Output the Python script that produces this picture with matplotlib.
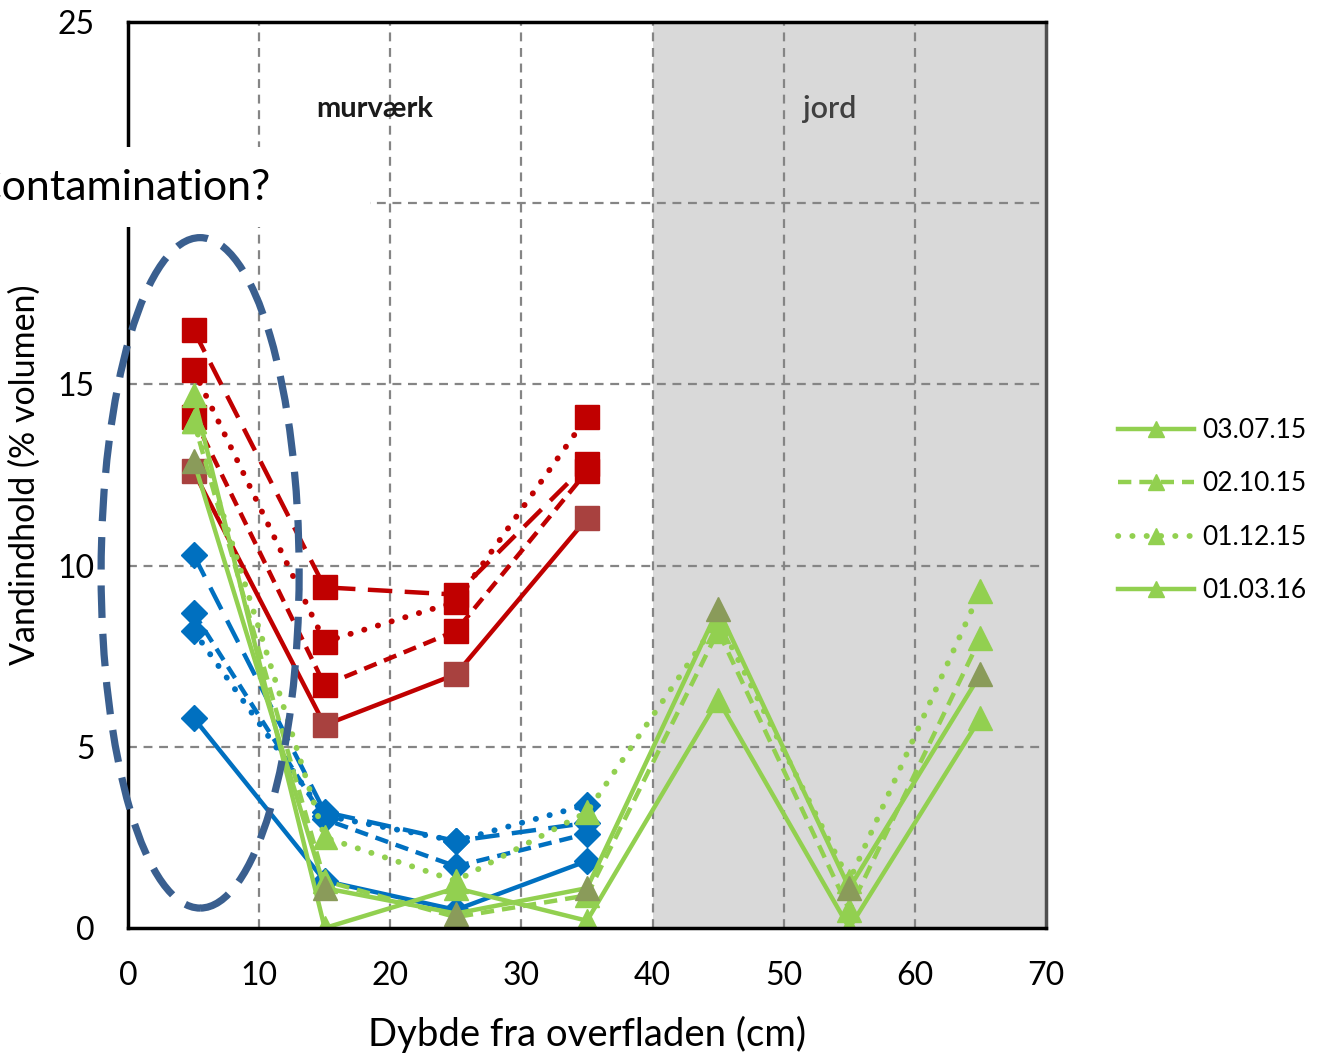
import matplotlib
matplotlib.use("Agg")
import matplotlib.pyplot as plt
from matplotlib.patches import Ellipse, Rectangle
from matplotlib.lines import Line2D

plt.rcParams['font.family'] = ['Lato', 'DejaVu Sans']

# depth (cm)
depth_wall = [5, 15, 25, 35]
depth_all = [5, 15, 25, 35, 45, 55, 65]

# red series (squares)
red_long = [16.5, 9.4, 9.2, 12.8]
red_dot = [15.4, 7.9, 9.0, 14.1]
red_dash = [14.1, 6.7, 8.2, 12.6]
red_solid = [12.6, 5.6, 7.0, 11.3]

# blue series (diamonds)
blue_long = [10.3, 3.2, 2.4, 2.9]
blue_dot = [8.2, 3.1, 2.4, 3.4]
blue_dash = [8.7, 3.0, 1.7, 2.6]
blue_solid = [5.8, 1.3, 0.5, 1.85]

# green series (triangles)
green_labels = ['03.07.15', '02.10.15', '01.12.15', '01.03.16']
green_0307 = [14.7, 0.0, 1.1, 0.2, 6.3, 0.0, 5.8]
green_0210 = [14.0, 1.3, 0.3, 0.9, 8.2, 0.5, 8.0]
green_0112 = [14.0, 2.5, 1.3, 3.2, 8.5, 1.3, 9.3]
green_0103 = [12.9, 1.1, 0.4, 1.1, 8.8, 1.1, 7.0]

# y tick 20 is hidden behind the annotation box in the original
ytick_vals = [0, 5, 10, 15, 25]

RED = '#C00000'
RED_DARK = '#A8413F'
BLUE = '#0070C0'
GREEN = '#92D050'
OLIVE = '#8A9B5A'

fig = plt.figure(figsize=(13.19, 10.56), dpi=100)
ax = fig.add_axes([128/1319, 128/1056, 918/1319, 906/1056])

ax.axvspan(40, 70, color='#D9D9D9', zorder=0, lw=0)
for xv in range(10, 70, 10):
    ax.axvline(xv, color='#858585', ls=(0, (4, 3)), lw=1.6, zorder=1)
for yv in range(5, 25, 5):
    ax.axhline(yv, color='#858585', ls=(0, (4, 3)), lw=1.6, zorder=1)

lw = 3.2
dot = (0, (0.05, 2.4))
dash = (0, (3, 1.8))
longdash = (0, (5.5, 2.8))

def series(x, y, color, mcol, marker, ls, ms, z):
    is_dot = ls == dot
    ax.plot(x, y, color=color, ls=ls, lw=4.2 if is_dot else lw, marker=marker, ms=ms,
            mfc=mcol, mec=mcol, zorder=z, dash_capstyle='round' if is_dot else 'butt',
            solid_capstyle='butt')

series(depth_wall, red_long, RED, RED, 's', longdash, 17, 3)
series(depth_wall, red_dot, RED, RED, 's', dot, 17, 3)
series(depth_wall, red_dash, RED, RED, 's', dash, 17, 3)
series(depth_wall, red_solid, RED, RED_DARK, 's', '-', 17, 3)

series(depth_wall, blue_long, BLUE, BLUE, 'D', longdash, 13, 4)
series(depth_wall, blue_dot, BLUE, BLUE, 'D', dot, 13, 4)
series(depth_wall, blue_dash, BLUE, BLUE, 'D', dash, 13, 4)
series(depth_wall, blue_solid, BLUE, BLUE, 'D', '-', 13, 4)

series(depth_all, green_0307, GREEN, GREEN, '^', '-', 17, 5)
series(depth_all, green_0210, GREEN, GREEN, '^', dash, 17, 5)
series(depth_all, green_0112, GREEN, GREEN, '^', dot, 17, 5)
series(depth_all, green_0103, GREEN, OLIVE, '^', '-', 17, 5)

ax.set_xlim(0, 70)
ax.set_ylim(0, 25)
ax.set_xticks(range(0, 71, 10))
ax.set_yticks(ytick_vals)
ax.tick_params(length=0, labelsize=23, pad=24)
for s in ['left', 'bottom', 'top']:
    ax.spines[s].set_linewidth(2.5)
    ax.spines[s].set_color('black')
ax.spines['right'].set_linewidth(2.5)
ax.spines['right'].set_color('#505050')
for s in ax.spines.values():
    s.set_zorder(6)

ax.set_xlabel('Dybde fra overfladen (cm)', fontsize=27.5, labelpad=18)
ax.set_ylabel('Vandindhold (% volumen)', fontsize=24.5, labelpad=12)

ax.text(18.8, 22.6, 'murværk', fontsize=21, fontweight='bold', ha='center', va='center', color='#1a1a1a')
ax.text(53.5, 22.6, 'jord', fontsize=22, fontweight='semibold', ha='center', va='center', color='#404040')

# legend for the green series
handles = [
    Line2D([], [], color=GREEN, lw=lw, ls='-', marker='^', ms=11),
    Line2D([], [], color=GREEN, lw=lw, ls=dash, marker='^', ms=11),
    Line2D([], [], color=GREEN, lw=4.2, ls=dot, marker='^', ms=11, dash_capstyle='round'),
    Line2D([], [], color=GREEN, lw=lw, ls='-', marker='^', ms=11),
]
fig.legend(handles, green_labels, loc='upper left', bbox_to_anchor=(1094/1319, 1 - 394/1056),
           frameon=False, fontsize=19, handlelength=2.9, handletextpad=0.3, labelspacing=1.08)

# annotation overlay
ell = Ellipse((5.5, 9.8), 15.1, 18.5, fill=False, ec='#3A5F8F', lw=5.2, ls=(0, (4.5, 2.2)),
              zorder=8, clip_on=False)
ax.add_patch(ell)
fig.add_artist(Rectangle((0, 1 - 227/1056), 370/1319, 80/1056, transform=fig.transFigure,
                         fc='white', ec='none', zorder=9))
fig.text(270/1319, 1 - 188/1056, 'Contamination?', fontsize=31, ha='right', va='center',
         color='black', zorder=10)

fig.savefig('out.png', dpi=100)
